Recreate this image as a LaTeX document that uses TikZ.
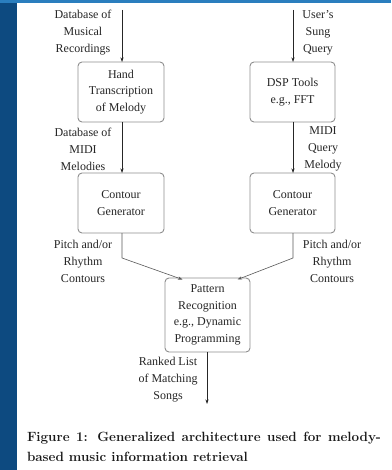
\documentclass[tikz,border=0pt]{standalone}
\usepackage{fontspec}
\newfontfamily\tnr{Liberation Serif}
\usetikzlibrary{arrows.meta}
\definecolor{bandL}{HTML}{0D4A80}
\definecolor{bandT}{HTML}{2A7EBE}
\definecolor{boxgray}{HTML}{8E8E8E}
\begin{document}
\begin{tikzpicture}[x=1pt,y=-1pt,
  every node/.style={inner sep=0pt, outer sep=0pt},
  procbox/.style={draw=boxgray, line width=0.9pt, rounded corners=4pt, align=center,
    font=\tnr\fontsize{12}{16.5}\selectfont, text=black!85},
  lbl/.style={align=center, font=\tnr\fontsize{12}{17}\selectfont, text=black!85},
  flow/.style={draw=black!85, line width=0.6pt, -{Stealth[length=4.5pt,width=3pt]}},
  flowg/.style={draw=black!65, line width=0.6pt, -{Stealth[length=4.5pt,width=3.2pt]}}]
\useasboundingbox (0,0) rectangle (391,470);
\fill[white] (0,0) rectangle (391,470);
\fill[bandL] (0,0) rectangle (17,470);
\fill[bandT] (0,0) rectangle (391,3);

% boxes
\node[procbox, minimum width=86pt, minimum height=60pt] (hand) at (121,92) {Hand\\Transcription\\of Melody};
\node[procbox, minimum width=85pt, minimum height=60pt] (dsp) at (292.5,92) {DSP Tools\\e.g., FFT};
\node[procbox, minimum width=86pt, minimum height=60pt] (cgl) at (121,203) {Contour\\Generator};
\node[procbox, minimum width=85pt, minimum height=60pt] (cgr) at (292.5,203) {Contour\\Generator};
\node[procbox, minimum width=85pt, minimum height=74pt] (pat) at (207.5,315) {Pattern\\Recognition\\e.g., Dynamic\\Programming};

% labels
\node[lbl] (l1) at (83,33) {Database of\\Musical\\Recordings};
\node[lbl] (r1) at (318,33) {User’s\\Sung\\Query};
\node[lbl] (l2) at (83,149) {Database of\\MIDI\\Melodies};
\node[lbl] (r2) at (323,149) {MIDI\\Query\\Melody};
\node[lbl] (l3) at (83,261) {Pitch and/or\\Rhythm\\Contours};
\node[lbl] (r3) at (332,261) {Pitch and/or\\Rhythm\\Contours};
\node[lbl] (l4) at (168,380) {Ranked List\\of Matching\\Songs};

% free ends
\coordinate (inL) at (122,10);
\coordinate (inR) at (293,10);
\coordinate (bendL) at (122,258);
\coordinate (bendR) at (293,258);
\coordinate (out) at (207,404);

% connectors
\draw[flow] (inL) -- (inL |- hand.north);
\draw[flow] (inR) -- (inR |- dsp.north);
\draw[flow] (inL |- hand.south) -- (inL |- cgl.north);
\draw[flow] (inR |- dsp.south) -- (inR |- cgr.north);
\draw[flowg] (inL |- cgl.south) -- (bendL) -- ([xshift=-25pt,yshift=-1.5pt]pat.north);
\draw[flowg] (inR |- cgr.south) -- (bendR) -- ([xshift=30pt,yshift=-1.5pt]pat.north);
\draw[flow] (out |- pat.south) -- (out);

% caption
\node[anchor=north west, text width=354pt, align=justify,
  font=\bfseries\fontsize{13.4}{20}\selectfont, text=black!90] (cap) at (27,432)
  {Figure 1: Generalized architecture used for melody-based music information retrieval};
\end{tikzpicture}
\end{document}
